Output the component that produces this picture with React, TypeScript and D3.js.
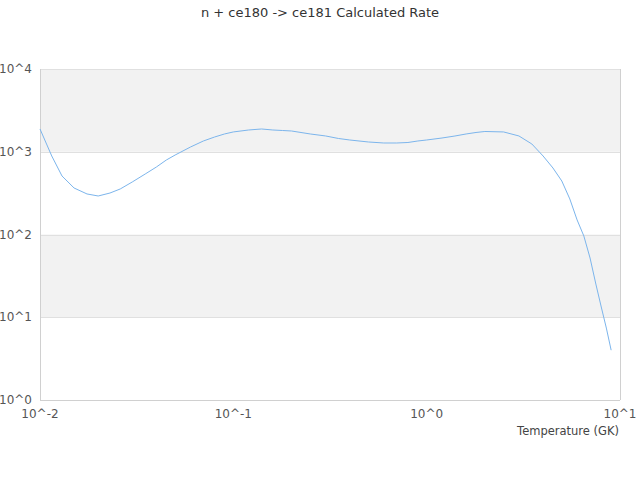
import React from "react";
import * as d3 from "d3";

const title = "n + ce180 -> ce181 Calculated Rate";
const xAxisTitle = "Temperature (GK)";
const temperatures = [
  0.01, 0.0115, 0.013, 0.015, 0.0175, 0.02, 0.023, 0.026, 0.03, 0.035, 0.04, 0.045, 0.05,
  0.06, 0.07, 0.08, 0.09, 0.1, 0.12, 0.14, 0.16, 0.18, 0.2, 0.25, 0.3, 0.35, 0.4, 0.5, 0.6,
  0.7, 0.8, 0.9, 1, 1.2, 1.4, 1.6, 1.8, 2, 2.5, 3, 3.5, 4, 4.5, 5, 5.5, 6, 6.5, 7, 7.5, 8,
  8.5, 9,
];
const rates = [
  1884, 889, 509, 365, 309, 292, 317, 355, 431, 538, 654, 794, 913,
  1140, 1349, 1507, 1640, 1735, 1832, 1884, 1832, 1806, 1782, 1640, 1552, 1446, 1387, 1312, 1276,
  1276, 1294, 1349, 1387, 1466, 1550, 1640, 1710, 1757, 1735, 1552, 1241, 889, 636, 443, 269, 150, 96, 52, 25.2, 13.3,
  7.4, 4.0,
];
const xTicks = [0.01, 0.1, 1, 10];
const xTickLabels = ["10^-2", "10^-1", "10^0", "10^1"];
const yTicks = [1, 10, 100, 1000, 10000];
const yTickLabels = ["10^0", "10^1", "10^2", "10^3", "10^4"];
const bands = [[10, 100], [1000, 10000]];

const W = 640;
const H = 480;
const left = 40;
const right = 620;
const top = 69;
const bottom = 400;
const font = "'DejaVu Sans', sans-serif";

export default function App() {
  const x = d3.scaleLog().domain([0.01, 10]).range([left, right]);
  const y = d3.scaleLog().domain([1, 10000]).range([bottom, top]);
  const pts = temperatures.map((t, i) => [t, rates[i]] as [number, number]);
  const line = d3
    .line<[number, number]>()
    .x((d) => x(d[0]))
    .y((d) => y(d[1]));

  return (
    <svg
      width={W}
      height={H}
      style={{ position: "absolute", left: 0, top: 0, background: "#fff" }}
      fontFamily={font}
    >
      <rect x={0} y={0} width={W} height={H} fill="#fff" />
      {bands.map((b, i) => (
        <rect
          key={i}
          x={left}
          y={y(b[1])}
          width={right - left}
          height={y(b[0]) - y(b[1])}
          fill="#f2f2f2"
        />
      ))}
      {yTicks.map((t, i) => (
        <line
          key={i}
          x1={left}
          x2={right}
          y1={Math.round(y(t)) + 0.5}
          y2={Math.round(y(t)) + 0.5}
          stroke="#e0e0e0"
          strokeWidth={1}
        />
      ))}
      <line x1={left + 0.5} x2={left + 0.5} y1={top} y2={bottom} stroke="#d0d0d0" />
      <line x1={right + 0.5} x2={right + 0.5} y1={top} y2={bottom} stroke="#d0d0d0" />
      <line x1={left} x2={right} y1={bottom + 0.5} y2={bottom + 0.5} stroke="#d0d0d0" />
      <path d={line(pts) || ""} fill="none" stroke="#7cb5ec" strokeWidth={1} />
      {yTicks.map((t, i) => (
        <text
          key={i}
          x={32}
          y={y(t)}
          dy="0.35em"
          textAnchor="end"
          fontSize={12}
          fill="#555"
        >
          {yTickLabels[i]}
        </text>
      ))}
      {xTicks.map((t, i) => (
        <text
          key={i}
          x={x(t)}
          y={414}
          dy="0.35em"
          textAnchor="middle"
          fontSize={12}
          fill="#555"
        >
          {xTickLabels[i]}
        </text>
      ))}
      <text x={right - 1} y={431} dy="0.35em" textAnchor="end" fontSize={11.5} fill="#444">
        {xAxisTitle}
      </text>
      <text x={W / 2} y={12} dy="0.35em" textAnchor="middle" fontSize={13} fill="#333">
        {title}
      </text>
    </svg>
  );
}
